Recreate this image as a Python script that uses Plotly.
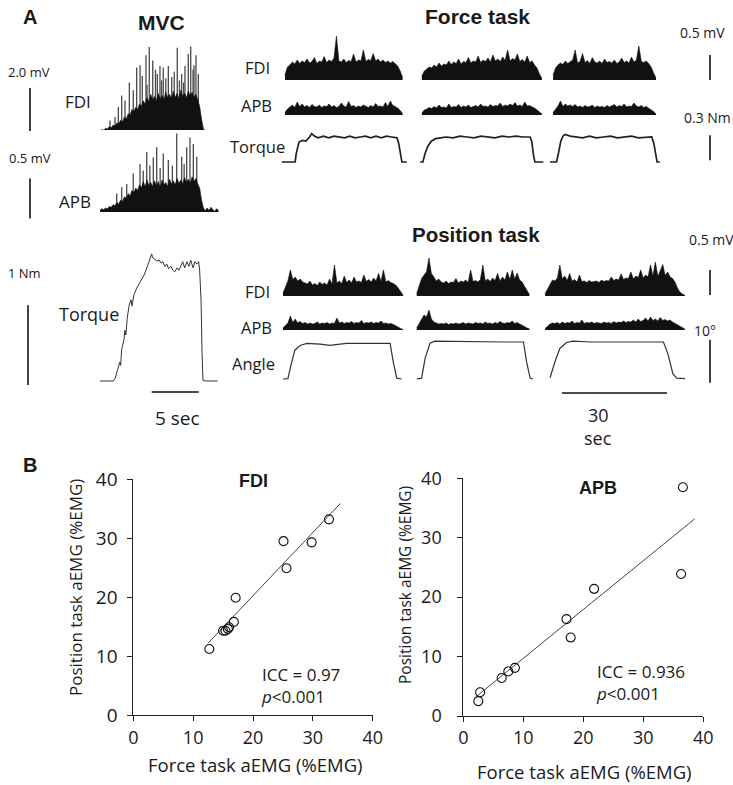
import numpy as np
import plotly.graph_objects as go

# ---------------- DATA ----------------
# MVC trial: dense EMG bulk (time step 0.2 s) plus the tallest individual spikes
mvc_dt = 0.2
mvc_fdi_bulk_mv = [0.05,0.12,0.08,0.18,0.14,0.25,0.20,0.32,0.28,0.42,
                   0.38,0.55,0.48,0.70,0.62,0.85,0.78,1.05,0.95,1.15,
                   1.05,1.30,1.20,1.45,1.30,1.60,1.40,1.75,1.50,1.65,
                   1.45,1.80,1.55,1.70,1.50,1.85,1.60,1.75,1.55,1.90,
                   1.60,1.80,1.55,1.95,1.65,1.80,1.60,1.90,1.70,1.85,
                   1.60,1.75,1.50,1.20,0.60,0.15,0.05,
                   0.04,0.03,0.05,0.04,0.04,0.03,0.04]
mvc_fdi_spike_s = [1.06, 1.6, 1.95, 2.31, 2.66, 3.12, 3.54, 3.9, 4.26, 4.5, 4.89, 5.0, 5.24, 5.61, 5.9,
                   6.1, 6.38, 6.55, 6.73, 7.0, 7.27, 7.63, 7.9, 8.22, 8.45, 8.69, 8.9, 9.04, 9.39, 9.65,
                   9.9, 10.0, 10.21, 10.46]
mvc_fdi_spike_mv = [0.54, 0.70, 1.16, 1.70, 1.47, 2.30, 1.94, 3.00, 3.10, 2.60, 3.57, 2.20, 3.95, 3.33, 2.90,
                    2.70, 3.07, 2.40, 3.00, 2.50, 3.07, 2.56, 2.80, 3.92, 2.40, 2.70, 2.30, 3.07, 3.63, 3.98,
                    2.90, 3.10, 3.57, 2.70]
mvc_apb_bulk_mv = [0.02,0.04,0.03,0.05,0.04,0.07,0.06,0.09,0.08,0.12,
                   0.10,0.15,0.13,0.19,0.17,0.23,0.20,0.27,0.24,0.30,
                   0.27,0.34,0.30,0.38,0.32,0.40,0.33,0.37,0.32,0.39,
                   0.33,0.38,0.31,0.40,0.34,0.37,0.32,0.41,0.35,0.39,
                   0.34,0.42,0.36,0.40,0.35,0.43,0.37,0.41,0.36,0.44,
                   0.38,0.42,0.35,0.30,0.15,0.05,0.02,
                   0.05,0.02,0.06,0.03,0.01,0.04,0.02]
mvc_apb_spike_s = [1.78, 2.31, 2.84, 3.54, 4.26, 4.6, 4.97, 5.3, 5.67, 6.03, 6.4, 6.73, 7.27, 7.7, 8.16,
                   8.69, 8.95, 9.22, 9.57, 9.93, 10.29]
mvc_apb_spike_mv = [0.23, 0.31, 0.35, 0.48, 0.60, 0.52, 0.75, 0.58, 0.68, 0.81, 0.55, 0.73, 0.65, 0.58, 0.98,
                    0.69, 0.60, 0.81, 0.93, 0.85, 0.69]
mvc_torque_s = [0, 1.4, 1.6, 1.9, 2.1, 2.2, 2.3, 2.55, 2.65, 2.75,
                2.9, 3.1, 3.3, 3.4, 3.6, 3.9, 4.25, 4.7, 5.1, 5.4,
                5.5, 5.6, 5.85, 6.05, 6.3, 6.5, 6.7, 6.9, 7.1, 7.3,
                7.55, 7.75, 7.95, 8.2, 8.4, 8.6, 8.8, 9.0, 9.25, 9.45,
                9.65, 9.9, 10.1, 10.3, 10.5, 10.6, 10.75, 10.85, 10.95, 11.2,
                12.5]
mvc_torque_nm = [0, 0, 0.03, 0.17, 0.24, 0.20, 0.40, 0.53, 0.65, 0.59,
                 0.81, 0.97, 1.04, 0.96, 1.10, 1.19, 1.26, 1.36, 1.49, 1.58,
                 1.63, 1.58, 1.56, 1.54, 1.55, 1.51, 1.53, 1.47, 1.50, 1.44,
                 1.47, 1.42, 1.40, 1.45, 1.42, 1.47, 1.53, 1.45, 1.53, 1.47,
                 1.55, 1.45, 1.53, 1.50, 1.53, 1.42, 1.04, 0.40, 0.01, 0,
                 0]

# Force task (EMG step 0.7 s)
task_dt = 0.7
force_block_start_s = [0.0, 39.1, 76.6]
force_fdi_1 = [0.10,0.26,0.30,0.36,0.32,0.40,0.33,0.38,0.35,0.42,
               0.34,0.37,0.45,0.33,0.38,0.36,0.47,0.35,0.40,0.37,
               0.44,0.88,0.38,0.36,0.42,0.35,0.39,0.37,0.52,0.36,
               0.40,0.38,0.60,0.37,0.41,0.39,0.53,0.38,0.42,0.36,
               0.40,0.35,0.38,0.34,0.37,0.33,0.28,0.18,0.05]
force_fdi_2 = [0.08,0.18,0.22,0.26,0.24,0.30,0.26,0.34,0.28,0.32,
               0.30,0.38,0.31,0.36,0.33,0.42,0.32,0.37,0.35,0.45,
               0.34,0.38,0.36,0.48,0.35,0.40,0.37,0.44,0.36,0.50,
               0.38,0.42,0.37,0.46,0.39,0.60,0.38,0.43,0.40,0.52,
               0.37,0.41,0.36,0.48,0.35,0.38,0.30,0.24,0.12,0.03]
force_fdi_3 = [0.10,0.24,0.30,0.34,0.31,0.38,0.33,0.36,0.40,0.60,
               0.34,0.37,0.53,0.35,0.39,0.33,0.45,0.36,0.34,0.38,
               0.33,0.42,0.35,0.37,0.34,0.40,0.33,0.36,0.44,0.35,
               0.38,0.34,0.46,0.36,0.40,0.68,0.37,0.35,0.38,0.33,
               0.26,0.14,0.04]
force_apb_1 = [0.05,0.12,0.16,0.20,0.15,0.26,0.17,0.22,0.16,0.19,
               0.15,0.21,0.17,0.16,0.20,0.15,0.18,0.17,0.22,0.16,
               0.19,0.15,0.17,0.24,0.18,0.16,0.27,0.17,0.19,0.15,
               0.18,0.16,0.20,0.17,0.15,0.19,0.16,0.23,0.17,0.18,
               0.16,0.25,0.17,0.28,0.19,0.17,0.14,0.09,0.03]
force_apb_2 = [0.04,0.10,0.12,0.15,0.13,0.17,0.14,0.20,0.15,0.16,
               0.14,0.22,0.15,0.17,0.16,0.21,0.15,0.18,0.16,0.20,
               0.15,0.17,0.19,0.16,0.22,0.17,0.18,0.16,0.21,0.17,
               0.19,0.18,0.24,0.17,0.20,0.18,0.22,0.19,0.25,0.18,
               0.20,0.17,0.26,0.18,0.19,0.16,0.14,0.10,0.06,0.02]
force_apb_3 = [0.05,0.12,0.18,0.28,0.17,0.22,0.18,0.20,0.17,0.21,
               0.16,0.18,0.15,0.19,0.16,0.17,0.20,0.15,0.18,0.16,
               0.17,0.15,0.19,0.16,0.18,0.21,0.16,0.19,0.17,0.22,
               0.16,0.18,0.17,0.24,0.18,0.16,0.19,0.15,0.17,0.14,
               0.11,0.07,0.02]
force_torque_s_1 = [-0.9, 2.9, 3.2, 3.6, 4.0, 5.0, 6.0, 7.0, 7.6, 8.5, 9.5, 11, 12.5, 14, 15.5,
                    17, 18.5, 20, 21.5, 23, 24.5, 26, 27.5, 29, 30.5, 32.0, 32.5, 33.0, 33.4, 34.8]
force_torque_nm_1 = [0, 0, 0.10, 0.18, 0.24, 0.26, 0.25, 0.30, 0.34, 0.31, 0.29, 0.31, 0.29, 0.31, 0.30,
                     0.29, 0.31, 0.29, 0.30, 0.31, 0.29, 0.31, 0.29, 0.31, 0.30, 0.29, 0.22, 0.08, 0.0, 0.0]
force_torque_s_2 = [38.6, 39.4, 40.0, 40.8, 41.8, 43.0, 44.5, 46, 48, 50, 52, 54, 56, 58, 60, 62,
                    64, 66, 68, 70.0, 70.5, 71.0, 71.4, 73.8]
force_torque_nm_2 = [0, 0, 0.10, 0.19, 0.25, 0.28, 0.29, 0.30, 0.29, 0.31, 0.30, 0.29, 0.31, 0.30, 0.29, 0.31,
                     0.30, 0.31, 0.30, 0.30, 0.25, 0.08, 0, 0]
force_torque_s_3 = [75.7, 77.6, 78.2, 78.8, 79.4, 80.0, 81.5, 83, 85, 87, 89, 91, 93, 95, 97, 99,
                    101, 103, 104.8, 105.4, 106.0, 106.3, 107.1]
force_torque_nm_3 = [0, 0, 0.12, 0.25, 0.31, 0.33, 0.31, 0.30, 0.29, 0.31, 0.29, 0.30, 0.31, 0.29, 0.30, 0.31,
                     0.29, 0.30, 0.30, 0.22, 0.05, 0, 0]

# Position task
pos_block_start_s = [0.0, 38.2, 74.9]
pos_fdi_1 = [0.06,0.20,0.30,0.52,0.33,0.38,0.30,0.34,0.28,0.26,
             0.24,0.30,0.22,0.25,0.21,0.28,0.23,0.26,0.22,0.34,
             0.24,0.62,0.26,0.30,0.25,0.40,0.27,0.32,0.26,0.38,
             0.28,0.30,0.27,0.42,0.29,0.33,0.28,0.36,0.30,0.45,
             0.29,0.52,0.28,0.31,0.27,0.25,0.22,0.16,0.08,0.02]
pos_fdi_2 = [0.05,0.22,0.35,0.42,0.48,0.76,0.45,0.38,0.30,0.34,
             0.28,0.26,0.30,0.25,0.28,0.27,0.35,0.26,0.30,0.28,
             0.32,0.27,0.52,0.29,0.31,0.28,0.33,0.62,0.30,0.34,
             0.29,0.36,0.31,0.45,0.30,0.38,0.32,0.48,0.33,0.52,
             0.34,0.46,0.32,0.28,0.20,0.10,0.03]
pos_fdi_3 = [0.05,0.15,0.25,0.32,0.30,0.36,0.62,0.34,0.40,0.31,
             0.45,0.30,0.33,0.28,0.42,0.29,0.30,0.27,0.31,0.28,
             0.29,0.30,0.27,0.32,0.29,0.31,0.30,0.38,0.31,0.34,
             0.32,0.44,0.33,0.36,0.35,0.48,0.34,0.40,0.37,0.52,
             0.36,0.42,0.38,0.62,0.40,0.68,0.39,0.50,0.63,0.41,
             0.48,0.38,0.35,0.28,0.16,0.08,0.04,0.02]
pos_apb_1 = [0.04,0.10,0.14,0.28,0.15,0.22,0.14,0.17,0.13,0.15,
             0.12,0.14,0.12,0.13,0.16,0.12,0.14,0.13,0.15,0.12,
             0.14,0.13,0.24,0.14,0.16,0.13,0.15,0.14,0.17,0.13,
             0.15,0.14,0.19,0.13,0.15,0.14,0.16,0.13,0.15,0.14,
             0.18,0.13,0.14,0.12,0.13,0.11,0.09,0.06,0.03,0.01]
pos_apb_2 = [0.04,0.12,0.20,0.30,0.26,0.40,0.22,0.16,0.14,0.12,
             0.13,0.12,0.14,0.11,0.13,0.12,0.14,0.12,0.13,0.15,
             0.12,0.14,0.13,0.12,0.15,0.13,0.14,0.12,0.16,0.13,
             0.14,0.12,0.15,0.13,0.17,0.14,0.13,0.15,0.14,0.18,
             0.13,0.15,0.12,0.10,0.07,0.04,0.02]
pos_apb_3 = [0.03,0.08,0.12,0.14,0.13,0.15,0.12,0.16,0.13,0.15,
             0.14,0.18,0.13,0.15,0.14,0.20,0.13,0.15,0.14,0.16,
             0.13,0.15,0.14,0.13,0.16,0.14,0.15,0.13,0.17,0.14,
             0.16,0.15,0.18,0.15,0.17,0.16,0.20,0.16,0.22,0.17,
             0.19,0.24,0.18,0.26,0.19,0.22,0.18,0.25,0.19,0.21,
             0.18,0.20,0.16,0.13,0.10,0.07,0.04,0.02]
pos_angle_s_1 = [0, 1.4, 2.5, 3.4, 4.9, 6.8, 10.6, 13.4, 16.3, 18.2, 25, 30.6, 31.5, 32.5, 33.9]
pos_angle_deg_1 = [0, 0.1, 4.0, 6.7, 7.8, 8.3, 8.1, 7.8, 8.1, 8.3, 8.3, 8.3, 4.0, 0.2, 0]
pos_angle_s_2 = [38.2, 39.6, 40.6, 42.0, 43.4, 50, 57, 63, 68.7, 69.6, 70.6, 71.4]
pos_angle_deg_2 = [0, 0.2, 4.8, 8.3, 8.8, 8.7, 8.7, 8.6, 8.6, 4.0, 0.2, 0]
pos_angle_s_3 = [76.3, 77.7, 79.1, 81.0, 82.9, 88, 95, 102, 108.7, 110.0, 111.4, 112.5, 114.9]
pos_angle_deg_3 = [0.3, 4.0, 7.1, 8.5, 8.8, 8.6, 8.6, 8.6, 8.6, 5.8, 1.2, 0.2, 0.1]

# Panel B scatter data (%EMG)
fdi_force = [12.7, 15.0, 15.4, 15.8, 16.0, 16.8, 17.1, 25.1, 25.6, 29.8, 32.7]
fdi_position = [11.2, 14.3, 14.3, 14.6, 14.9, 15.8, 19.9, 29.5, 24.9, 29.3, 33.2]
fdi_fit_x = [12.5, 34.6]
fdi_fit_y = [12.2, 35.9]
apb_force = [2.5, 2.8, 6.4, 7.5, 8.6, 17.2, 17.9, 21.8, 36.3, 36.6]
apb_position = [2.5, 4.0, 6.4, 7.5, 8.1, 16.3, 13.2, 21.4, 23.9, 38.5]
apb_fit_x = [2.2, 38.6]
apb_fit_y = [3.3, 33.2]
scatter_ticks = [0, 10, 20, 30, 40]

# ---------------- LAYOUT HELPERS ----------------
W, H = 733, 785
FONT = "Open Sans"
BOLD = "Liberation Sans"
TXT = "#1a1a1a"


def xdom(p0, p1):
    return [p0 / W, p1 / W]


def ydom(top, bot):
    return [1 - bot / H, 1 - top / H]


def yrng(top, bot, base, ppu):
    return [(base - bot) / ppu, (base - top) / ppu]


def xrng(p0, p1, origin, ppu):
    return [(p0 - origin) / ppu, (p1 - origin) / ppu]


fig = go.Figure()


def emg(t0, vals, n, dt):
    t = t0 + dt * np.arange(len(vals))
    fig.add_trace(go.Scatter(x=t, y=vals, mode="lines", fill="tozeroy",
                             fillcolor="#111", line=dict(color="#111", width=0.6),
                             xaxis=f"x{n}", yaxis=f"y{n}", hoverinfo="skip"))


def spikes(ts, hs, n):
    xs, ys = [], []
    for t, h in zip(ts, hs):
        xs += [t, t, None]
        ys += [0, h, None]
    fig.add_trace(go.Scatter(x=xs, y=ys, mode="lines", line=dict(color="#4a4a4a", width=1.3),
                             xaxis=f"x{n}", yaxis=f"y{n}", hoverinfo="skip"))


def line(t, v, n, w=1.4, color="#222"):
    fig.add_trace(go.Scatter(x=t, y=v, mode="lines",
                             line=dict(color=color, width=w),
                             xaxis=f"x{n}", yaxis=f"y{n}", hoverinfo="skip"))


# MVC
spikes(mvc_fdi_spike_s, mvc_fdi_spike_mv, 1)
emg(0, mvc_fdi_bulk_mv, 1, mvc_dt)
spikes(mvc_apb_spike_s, mvc_apb_spike_mv, 2)
emg(0, mvc_apb_bulk_mv, 2, mvc_dt)
line(mvc_torque_s, mvc_torque_nm, 3, 1.0, "#333")

# Force task
for s, v in zip(force_block_start_s, [force_fdi_1, force_fdi_2, force_fdi_3]):
    emg(s, v, 4, task_dt)
for s, v in zip(force_block_start_s, [force_apb_1, force_apb_2, force_apb_3]):
    emg(s, v, 5, task_dt)
for t, v in [(force_torque_s_1, force_torque_nm_1), (force_torque_s_2, force_torque_nm_2),
             (force_torque_s_3, force_torque_nm_3)]:
    line(t, v, 6, 1.7)

# Position task
for s, v in zip(pos_block_start_s, [pos_fdi_1, pos_fdi_2, pos_fdi_3]):
    emg(s, v, 7, task_dt)
for s, v in zip(pos_block_start_s, [pos_apb_1, pos_apb_2, pos_apb_3]):
    emg(s, v, 8, task_dt)
for t, v in [(pos_angle_s_1, pos_angle_deg_1), (pos_angle_s_2, pos_angle_deg_2),
             (pos_angle_s_3, pos_angle_deg_3)]:
    line(t, v, 9, 1.2, "#333")

# Scatter plots
for fx, fy, px, py, n in [(fdi_fit_x, fdi_fit_y, fdi_force, fdi_position, 10),
                          (apb_fit_x, apb_fit_y, apb_force, apb_position, 11)]:
    fig.add_trace(go.Scatter(x=fx, y=fy, mode="lines", line=dict(color="#444", width=1),
                             xaxis=f"x{n}", yaxis=f"y{n}", hoverinfo="skip"))
    fig.add_trace(go.Scatter(x=px, y=py, mode="markers", cliponaxis=False,
                             marker=dict(symbol="circle-open", size=9, color="#111",
                                         line=dict(width=1.1, color="#111")),
                             xaxis=f"x{n}", yaxis=f"y{n}"))

hidden = dict(visible=False, fixedrange=True, automargin=False)
lay = {}
# MVC axes
mvc_x = dict(domain=xdom(100, 222), range=xrng(100, 222, 100, 9.4), **hidden)
for n in (1, 2, 3):
    lay[f"xaxis{n}"] = dict(mvc_x, anchor=f"y{n}")
lay["yaxis1"] = dict(domain=ydom(40, 135), range=yrng(40, 135, 132, 21.5), anchor="x1", **hidden)
lay["yaxis2"] = dict(domain=ydom(130, 220), range=yrng(130, 220, 212, 80), anchor="x2", **hidden)
lay["yaxis3"] = dict(domain=ydom(245, 390), range=yrng(245, 390, 381, 78), anchor="x3", **hidden)
# Force axes
fx_ = dict(domain=xdom(270, 690), range=xrng(270, 690, 285, 3.5), **hidden)
for n in (4, 5, 6):
    lay[f"xaxis{n}"] = dict(fx_, anchor=f"y{n}")
lay["yaxis4"] = dict(domain=ydom(25, 85), range=yrng(25, 85, 80, 50), anchor="x4", **hidden)
lay["yaxis5"] = dict(domain=ydom(88, 120), range=yrng(88, 120, 115, 50), anchor="x5", **hidden)
lay["yaxis6"] = dict(domain=ydom(125, 170), range=yrng(125, 170, 162, 83.3), anchor="x6", **hidden)
# Position axes
px_ = dict(domain=xdom(270, 700), range=xrng(270, 700, 283, 3.5), **hidden)
for n in (7, 8, 9):
    lay[f"xaxis{n}"] = dict(px_, anchor=f"y{n}")
lay["yaxis7"] = dict(domain=ydom(245, 300), range=yrng(245, 300, 296, 50), anchor="x7", **hidden)
lay["yaxis8"] = dict(domain=ydom(303, 335), range=yrng(303, 335, 330, 50), anchor="x8", **hidden)
lay["yaxis9"] = dict(domain=ydom(335, 390), range=yrng(335, 390, 379, 4.3), anchor="x9", **hidden)

# Scatter axes
sc_axis = dict(range=[0, 40], tickvals=scatter_ticks, showline=True, linecolor="#222", linewidth=1,
               ticks="outside", ticklen=5, tickwidth=1, tickcolor="#222", showgrid=False,
               zeroline=False, fixedrange=True, automargin=False)
f_big = dict(family=FONT, size=19, color=TXT)
f_mid = dict(family=FONT, size=18, color=TXT)
lay["xaxis10"] = dict(sc_axis, domain=xdom(133.3, 372.7), anchor="y10", ticklabelstandoff=1, tickfont=f_mid)
lay["yaxis10"] = dict(sc_axis, domain=ydom(479.3, 715), anchor="x10", ticklabelstandoff=6, tickfont=f_big)
lay["xaxis11"] = dict(sc_axis, domain=xdom(463.3, 703.3), anchor="y11", ticklabelstandoff=0, tickfont=f_mid)
lay["yaxis11"] = dict(sc_axis, domain=ydom(478.3, 716), anchor="x11", ticklabelstandoff=12, tickfont=f_mid)

# ---------------- TEXT ----------------
ann = []


def txt(s, x, y, size=16, bold=False, anchor="center", angle=0, align="center"):
    ann.append(dict(text=f"<b>{s}</b>" if bold else s, x=x / W, y=1 - y / H, xref="paper", yref="paper",
                    showarrow=False, xanchor=anchor, yanchor="middle", textangle=angle, align=align,
                    font=dict(family=BOLD if bold else FONT, size=size, color=TXT)))


txt("A", 30, 17, 20, True)
txt("B", 30, 465, 20, True)
txt("MVC", 161, 23, 21, True)
txt("Force task", 477, 17, 21, True)
txt("Position task", 476, 235, 20.5, True)
txt("2.0 mV", 29, 72, 13)
txt("0.5 mV", 30, 158, 13)
txt("1 Nm", 24, 273, 13)
txt("FDI", 78, 102, 17)
txt("APB", 75, 202, 17)
txt("Torque", 89, 314, 18)
txt("FDI", 257, 68, 16.5)
txt("APB", 256, 106, 16.5)
txt("Torque", 257, 147, 16.5)
txt("0.5 mV", 702, 33, 14)
txt("0.3 Nm", 707, 118, 14)
txt("FDI", 257, 292, 16.5)
txt("APB", 256, 327, 16.5)
txt("Angle", 253, 363, 16.5)
txt("0.5 mV", 711, 240, 14)
txt("10°", 705, 330, 14)
txt("5 sec", 177, 418, 19)
txt("30", 598, 415, 18)
txt("sec", 598, 438, 18)
txt("FDI", 253, 481, 18, True)
txt("APB", 598, 488, 18, True)
txt("ICC = 0.97<br><i>p</i><0.001", 259, 685, 17, anchor="left", align="left")
txt("ICC = 0.936<br><i>p</i><0.001", 594, 682, 17, anchor="left", align="left")
txt("Force task aEMG (%EMG)", 255, 764, 18.5)
txt("Force task aEMG (%EMG)", 584, 771, 18.5)
txt("Position task aEMG (%EMG)", 75, 588, 17, angle=-90)
txt("Position task aEMG (%EMG)", 405, 585, 15.5, angle=-90)

# ---------------- SCALE BARS ----------------
shapes = []


def vbar(xpx, yref, v0, v1, w=1.6):
    shapes.append(dict(type="line", xref="paper", yref=yref, x0=xpx / W, x1=xpx / W, y0=v0, y1=v1,
                       line=dict(color="#111", width=w)))


def hbar(xref, t0, t1, ypx, w=1.6):
    shapes.append(dict(type="line", xref=xref, yref="paper", x0=t0, x1=t1, y0=1 - ypx / H, y1=1 - ypx / H,
                       line=dict(color="#111", width=w)))


vbar(30, "y1", 0.05, 2.05)
vbar(30, "y2", -0.08, 0.42)
vbar(28, "y3", -0.05, 0.97)
vbar(710, "y4", 0, 0.5)
vbar(710, "y6", 0.02, 0.32)
vbar(710, "y7", 0.02, 0.52)
vbar(710, "y9", -0.9, 9.1)
hbar("x3", 5.5, 10.5, 392)
hbar("x7", 79.7, 109.7, 393)

fig.update_layout(template="none", width=W, height=H, margin=dict(l=0, r=0, t=0, b=0, pad=0),
                  showlegend=False, plot_bgcolor="white", paper_bgcolor="white",
                  annotations=ann, shapes=shapes, **lay)

fig.write_html("out.html", config={"displayModeBar": False},
               post_script="document.body.style.margin='0';")
